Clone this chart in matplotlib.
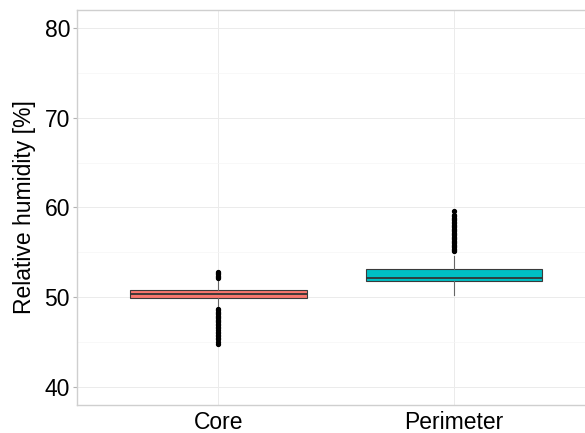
import matplotlib
matplotlib.use('Agg')
import matplotlib.pyplot as plt

plt.rcParams['font.family'] = ['Liberation Sans', 'DejaVu Sans']

# box summaries
categories = ['Core', 'Perimeter']
fills = ['#F8766D', '#00BFC4']
q1 = [49.9, 51.8]
med = [50.35, 52.15]
q3 = [50.8, 53.2]
whislo = [49.0, 50.3]
whishi = [51.8, 54.65]

core_outliers = [52.1, 52.25, 52.4, 52.55, 52.7, 52.85,
                 48.7, 48.55, 48.4, 48.25, 48.1, 47.95, 47.8, 47.65, 47.5,
                 47.35, 47.2, 47.05, 46.9, 46.7, 46.55, 46.4, 46.15, 46.0,
                 45.85, 45.7, 45.45, 45.3, 45.0, 44.8]
perimeter_outliers = [55.1, 55.25, 55.4, 55.55, 55.7, 55.85, 56.0, 56.15,
                      56.3, 56.45, 56.6, 56.75, 56.9, 57.05, 57.2, 57.35,
                      57.5, 57.65, 57.8, 57.95, 58.1, 58.25, 58.4, 58.55,
                      58.7, 58.85, 59.0, 59.15, 59.65]
outliers = [core_outliers, perimeter_outliers]

stats = []
for i in range(len(categories)):
    stats.append({'label': categories[i], 'q1': q1[i], 'med': med[i], 'q3': q3[i],
                  'whislo': whislo[i], 'whishi': whishi[i], 'fliers': outliers[i]})

fig = plt.figure(figsize=(5.85, 4.33), dpi=100)
ax = fig.add_axes([0.1316, 0.0647, 0.8864, 0.9123])

bp = ax.bxp(stats, positions=[1, 2], widths=0.75, patch_artist=True, showcaps=False,
            boxprops=dict(edgecolor='#3a3a3a', linewidth=0.8),
            medianprops=dict(color='#333333', linewidth=1.3),
            whiskerprops=dict(color='#666666', linewidth=0.8),
            flierprops=dict(marker='o', markersize=2.8, markerfacecolor='black',
                            markeredgecolor='black', linestyle='none'))
for patch, c in zip(bp['boxes'], fills):
    patch.set_facecolor(c)

ax.set_xlim(0.4, 2.6)
ax.set_ylim(38, 82)
ax.set_yticks([40, 50, 60, 70, 80])
ax.set_yticks([45, 55, 65, 75], minor=True)
ax.set_xticks([1, 2])
ax.set_xticklabels(categories)

ax.grid(True, which='major', color='#ebebeb', linewidth=0.7)
ax.grid(True, which='minor', axis='y', color='#f5f5f5', linewidth=0.5)
ax.set_axisbelow(True)

for s in ax.spines.values():
    s.set_color('#cfcfcf')
    s.set_linewidth(1.0)
ax.spines['right'].set_visible(False)

ax.tick_params(axis='y', which='major', length=3, color='#b3b3b3', labelsize=16.5, pad=2)
ax.tick_params(axis='x', which='major', length=0, labelsize=16.5, pad=4)
ax.tick_params(which='minor', length=0)

ax.set_ylabel('Relative humidity [%]', fontsize=16.5, labelpad=6)

plt.savefig('out.png', dpi=100)
